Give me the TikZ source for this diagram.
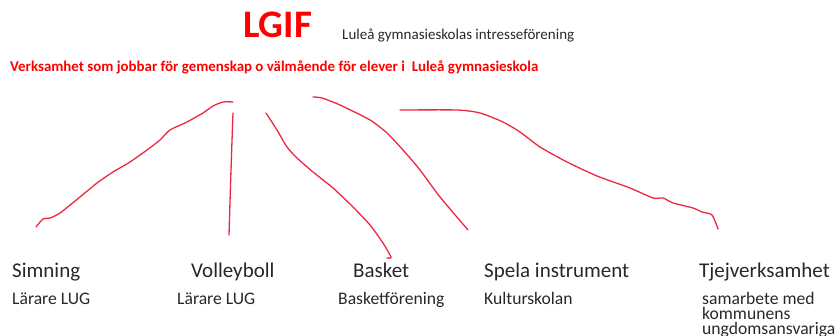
\documentclass[tikz,border=0pt]{standalone}
\usepackage{fontspec}
\setmainfont{Carlito}
\usepackage{tikz}
\usetikzlibrary{positioning}
\definecolor{pen}{RGB}{236,40,64}
\definecolor{ink}{RGB}{40,40,40}
\tikzstyle{title}=[inner sep=0pt,anchor=base west,text=red,font=\bfseries\fontsize{39}{42}\selectfont]
\tikzstyle{subtitle}=[inner sep=0pt,anchor=base west,text=ink,font=\fontsize{15}{18}\selectfont]
\tikzstyle{mission}=[inner sep=0pt,anchor=base west,text=red,font=\bfseries\fontsize{14.9}{17}\selectfont]
\tikzstyle{branch}=[inner sep=0pt,anchor=base west,text=ink,font=\fontsize{21}{24}\selectfont]
\tikzstyle{who}=[inner sep=0pt,anchor=base west,text=ink,align=left,font=\fontsize{17.6}{15}\selectfont]
\tikzstyle{stroke}=[draw=pen,line width=1.3pt,line cap=round,line join=round]

\begin{document}
\begin{tikzpicture}[x=1pt,y=-1pt]
            \useasboundingbox (0,0) rectangle (837,336);

            % HEADER

            \node[title] (lgif) at (243,38) {LGIF};
            \node[subtitle] (full) at (342,40) {Luleå gymnasieskolas intresseförening};
            \node[mission] (goal) at (10,72) {Verksamhet som jobbar för gemenskap o välmående för elever i~ Luleå gymnasieskola};

            % BRANCHES

            \node[branch] (simning) at (12,278) {Simning};
            \node[branch] (volley) at (191,278) {Volleyboll};
            \node[branch] (basket) at (353,278) {Basket};
            \node[branch] (spela) at (484,278) {Spela instrument};
            \node[branch] (tjej) at (699,278) {Tjejverksamhet};

            \node[who] (simwho) at (12,305) {Lärare LUG};
            \node[who] (volwho) at (177,305) {Lärare LUG};
            \node[who] (baswho) at (338,305) {Basketförening};
            \node[who] (spewho) at (484,305) {Kulturskolan};
            \node[who,anchor=north west] (tjewho) at (702,292) {samarbete med\\kommunens\\ungdomsansvariga};

            % HAND DRAWN LINES

            \draw[stroke] plot[smooth,tension=0.4] coordinates {(36,227) (43,219) (50,218) (60,213) (80,197) (97,183) (113,172) (130,162) (147,150) (160,140) (170,130) (187,122) (203,113) (213,106) (223,102) (233,102)};
            \draw[stroke] plot[smooth] coordinates {(233,113) (231,170) (229,235)};
            \draw[stroke] plot[smooth,tension=0.4] coordinates {(266,113) (277,130) (287,147) (297,158) (313,172) (333,188) (353,207) (370,225) (383,243) (390,255) (391,258) (387,258)};
            \draw[stroke] plot[smooth,tension=0.4] coordinates {(313,97) (322,98) (340,105) (370,120) (387,133) (403,150) (420,170) (440,197) (468,230)};
            \draw[stroke] plot[smooth,tension=0.4] coordinates {(400,110) (457,110) (480,113) (503,122) (520,132) (540,147) (567,162) (597,176) (630,188) (653,198) (663,198) (673,203) (693,208) (702,212) (712,215) (718,229)};

\end{tikzpicture}
\end{document}
